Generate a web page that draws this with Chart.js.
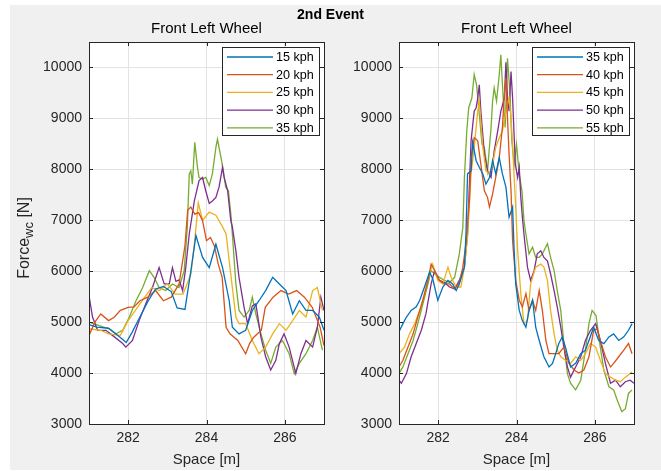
<!DOCTYPE html>
<html><head><meta charset="utf-8">
<script src="https://cdn.jsdelivr.net/npm/chart.js@4.4.0/dist/chart.umd.min.js"></script>
<style>
html,body{margin:0;padding:0;background:#fff;width:661px;height:471px;overflow:hidden;font-family:"Liberation Sans",Arial,sans-serif;}
#fig{position:absolute;left:10px;top:5px;width:651px;height:465px;background:#f0f0f0;}
canvas{position:absolute;left:0;top:0;}
#sup{position:absolute;left:0;width:661px;top:6px;text-align:center;font-weight:bold;font-size:14px;color:#000;}
#ylab{position:absolute;left:-36px;top:229px;width:120px;height:18px;line-height:18px;text-align:center;transform:rotate(-90deg);transform-origin:60px 9px;white-space:nowrap;font-size:16px;font-weight:normal;color:#262626;}
#ylab sub{font-size:13px;line-height:0;}
</style></head>
<body>
<div id="fig"></div>
<canvas id="c1" width="661" height="471"></canvas>
<canvas id="c2" width="661" height="471"></canvas>
<div id="sup">2nd Event</div>
<div id="ylab">Force<sub>wc</sub> [N]</div>
<script>
// ---- tick labels / categories ----
const X_TICKS = [282, 284, 286];
const Y_TICKS = [3000, 4000, 5000, 6000, 7000, 8000, 9000, 10000];
const LEFT_LABELS = ['15 kph', '20 kph', '25 kph', '30 kph', '35 kph'];
const RIGHT_LABELS = ['35 kph', '40 kph', '45 kph', '50 kph', '55 kph'];
const TITLE_TEXT = 'Front Left Wheel';
const X_TITLE = 'Space [m]';

// ---- left panel series [space m, force N] ----
const L15 = [[281.0,4950],[281.2,4900],[281.5,4880],[281.8,4700],[281.95,4600],[282.1,4800],[282.3,5100],[282.5,5400],[282.7,5650],[282.9,5700],[283.1,5600],[283.25,5280],[283.45,5250],[283.6,6000],[283.73,6700],[283.9,6270],[284.07,6070],[284.24,6530],[284.41,6070],[284.58,5420],[284.66,4900],[284.83,4770],[285.0,4840],[285.17,5230],[285.34,5420],[285.51,5620],[285.69,5880],[285.86,5750],[286.03,5620],[286.2,5160],[286.37,5420],[286.54,5230],[286.71,5230],[286.88,5100],[287.0,4840]];
const L20 = [[281.0,4740],[281.15,5000],[281.3,5160],[281.5,5030],[281.65,5100],[281.8,5230],[282.0,5290],[282.15,5300],[282.3,5420],[282.5,5490],[282.7,5620],[282.9,5420],[283.1,5490],[283.3,5750],[283.45,6500],[283.52,7200],[283.6,7260],[283.7,7120],[283.8,7150],[283.9,6990],[284.0,6600],[284.1,6660],[284.2,6500],[284.3,6140],[284.4,5880],[284.5,4900],[284.6,4770],[284.8,4640],[285.0,4380],[285.1,4580],[285.2,4700],[285.4,4840],[285.5,5290],[285.7,5490],[285.9,5620],[286.1,5550],[286.3,5620],[286.5,5490],[286.7,5290],[286.9,4900],[287.0,4540]];
const L25 = [[281.0,4870],[281.3,4840],[281.5,4770],[281.8,4740],[282.0,5030],[282.3,5360],[282.6,5680],[282.8,5620],[283.0,5750],[283.2,5550],[283.4,5550],[283.6,5940],[283.7,6600],[283.79,7340],[283.9,7000],[284.07,7160],[284.24,7100],[284.41,6870],[284.5,6730],[284.6,6070],[284.75,5100],[284.83,4970],[285.0,4970],[285.17,4640],[285.34,4380],[285.51,4510],[285.69,4770],[285.86,4970],[286.03,4840],[286.2,5030],[286.37,5230],[286.54,5100],[286.71,5620],[286.83,5680],[286.96,5230]];
const L30 = [[281.0,5520],[281.09,5100],[281.22,4840],[281.43,4840],[281.6,4740],[281.86,4580],[281.94,4510],[282.11,4640],[282.28,5030],[282.45,5360],[282.62,5680],[282.79,6070],[282.92,5750],[283.05,5750],[283.13,6070],[283.22,5800],[283.3,5830],[283.39,5620],[283.47,6070],[283.56,6730],[283.69,7380],[283.81,7780],[283.9,7840],[283.98,7580],[284.07,7330],[284.15,7380],[284.24,7450],[284.32,7650],[284.41,8040],[284.45,7840],[284.54,7580],[284.62,7000],[284.66,6870],[284.75,6400],[284.83,5880],[284.96,5290],[285.05,4970],[285.17,5320],[285.26,5360],[285.39,4700],[285.51,4320],[285.64,4060],[285.77,4250],[285.86,4580],[285.98,4770],[286.11,4510],[286.28,3990],[286.41,4380],[286.54,4640],[286.71,4510],[286.83,4900],[286.92,5490],[287.0,5230]];
const L35 = [[281.0,5000],[281.26,4930],[281.51,4870],[281.69,4770],[281.86,4840],[282.03,5100],[282.2,5420],[282.37,5680],[282.54,6010],[282.66,5880],[282.79,5680],[282.96,5620],[283.13,5750],[283.3,5680],[283.43,6010],[283.51,6860],[283.56,7910],[283.6,7970],[283.64,7710],[283.7,8530],[283.77,8040],[283.81,7840],[283.9,7810],[283.98,7840],[284.07,7680],[284.15,7910],[284.24,8430],[284.28,8590],[284.37,8230],[284.43,7970],[284.49,7650],[284.56,7580],[284.62,7130],[284.66,6730],[284.75,5750],[284.83,5230],[284.96,5100],[285.09,5230],[285.17,5490],[285.26,5160],[285.39,4770],[285.51,4450],[285.64,4190],[285.77,4510],[285.94,4640],[286.11,4380],[286.24,3990],[286.37,4190],[286.54,4380],[286.71,4640],[286.83,4900],[286.96,4450]];

// ---- right panel series [space m, force N] ----
const R35 = [[281.0,4810],[281.10,4970],[281.19,5100],[281.31,5230],[281.44,5300],[281.53,5430],[281.65,5690],[281.78,5980],[281.86,5850],[281.99,5430],[282.12,5690],[282.25,5820],[282.37,5750],[282.46,5620],[282.54,5750],[282.67,6080],[282.71,6730],[282.75,7910],[282.84,7970],[282.88,8530],[282.97,8170],[283.05,8040],[283.14,7910],[283.22,7710],[283.31,7840],[283.39,8170],[283.47,7910],[283.56,8230],[283.64,7910],[283.73,7650],[283.81,7060],[283.90,7260],[283.94,6400],[283.98,5750],[284.07,5230],[284.15,5030],[284.24,4900],[284.32,5230],[284.41,5430],[284.49,4900],[284.58,4640],[284.70,4320],[284.83,4120],[284.92,4190],[285.0,4380],[285.08,4580],[285.17,4710],[285.25,4510],[285.38,4120],[285.51,4190],[285.64,4380],[285.76,4450],[285.85,4640],[285.97,4900],[286.10,4640],[286.23,4580],[286.36,4710],[286.48,4770],[286.61,4640],[286.74,4710],[286.86,4840],[286.95,4970]];
const R40 = [[281.0,4120],[281.10,4250],[281.23,4510],[281.36,4770],[281.48,5100],[281.61,5430],[281.74,5820],[281.82,6140],[281.91,6010],[282.03,5820],[282.16,5750],[282.29,5750],[282.42,5650],[282.54,5780],[282.63,6080],[282.71,6540],[282.80,7400],[282.84,8230],[282.92,8620],[283.01,8560],[283.09,8100],[283.18,7580],[283.26,7450],[283.31,7260],[283.39,7520],[283.47,7840],[283.56,8230],[283.64,8820],[283.69,9470],[283.73,9790],[283.77,9010],[283.81,8300],[283.86,7580],[283.90,6600],[283.98,5820],[284.07,5430],[284.15,5300],[284.24,5560],[284.32,5230],[284.41,5430],[284.49,5230],[284.58,5620],[284.66,5230],[284.75,4640],[284.83,4380],[284.96,4380],[285.08,4380],[285.21,4510],[285.34,4190],[285.47,4060],[285.59,4000],[285.72,4060],[285.85,4320],[285.97,4840],[286.06,4870],[286.14,4640],[286.27,4320],[286.40,4120],[286.48,4190],[286.61,4320],[286.74,4450],[286.86,4580],[286.95,4380]];
const R45 = [[281.0,4380],[281.14,4510],[281.27,4770],[281.40,4970],[281.53,5230],[281.65,5560],[281.78,5950],[281.86,6140],[281.99,5820],[282.12,5750],[282.25,6080],[282.33,5880],[282.46,5690],[282.58,5690],[282.67,6080],[282.75,6670],[282.84,7910],[282.92,8430],[283.01,9140],[283.05,9340],[283.14,8430],[283.22,7970],[283.31,7910],[283.39,8100],[283.47,8430],[283.56,8620],[283.64,8750],[283.73,9140],[283.81,9400],[283.86,9010],[283.90,8490],[283.94,7840],[283.98,7260],[284.03,6400],[284.11,5560],[284.19,4970],[284.28,5030],[284.36,5750],[284.49,6080],[284.62,6140],[284.70,6080],[284.79,5820],[284.87,5230],[284.96,4770],[285.04,4450],[285.13,4320],[285.25,4250],[285.38,4190],[285.51,4320],[285.64,4250],[285.76,4380],[285.89,4580],[286.02,4510],[286.14,4250],[286.27,3990],[286.40,3920],[286.53,3860],[286.65,3830],[286.78,3920],[286.95,4020]];
const R50 = [[281.0,3860],[281.06,3800],[281.19,3990],[281.31,4320],[281.44,4580],[281.57,4840],[281.69,5170],[281.82,5750],[281.91,6010],[282.03,5820],[282.16,5780],[282.29,5690],[282.42,5650],[282.54,5820],[282.67,6080],[282.75,6730],[282.84,8560],[282.92,9140],[282.97,9210],[283.01,9400],[283.05,9660],[283.09,9140],[283.18,8300],[283.26,7970],[283.35,7840],[283.43,8360],[283.52,8750],[283.60,9140],[283.69,9400],[283.73,10100],[283.77,9400],[283.81,9140],[283.86,9920],[283.90,9400],[283.97,8100],[284.03,7840],[284.07,8040],[284.11,7450],[284.15,7060],[284.19,6730],[284.28,6080],[284.36,5820],[284.45,6010],[284.53,6340],[284.62,6400],[284.70,6270],[284.79,6200],[284.87,5950],[284.96,5620],[285.04,5300],[285.13,4900],[285.21,4510],[285.30,4120],[285.38,3920],[285.51,4120],[285.64,4320],[285.76,4640],[285.89,4840],[286.02,4970],[286.14,4640],[286.27,4190],[286.40,3800],[286.53,3860],[286.65,3730],[286.78,3830],[286.90,3860],[287.0,3800]];
const R55 = [[281.0,3990],[281.10,4120],[281.23,4380],[281.36,4640],[281.48,4970],[281.61,5360],[281.74,5750],[281.82,6010],[281.91,5950],[282.03,5880],[282.16,5820],[282.29,5780],[282.42,5880],[282.54,6340],[282.63,6860],[282.67,7840],[282.73,8750],[282.78,9210],[282.86,9400],[282.92,9860],[282.98,9660],[283.05,9080],[283.12,8490],[283.18,8430],[283.26,7970],[283.35,8820],[283.39,9340],[283.43,9600],[283.49,9340],[283.56,9860],[283.60,10250],[283.66,9400],[283.71,8820],[283.77,10180],[283.83,9530],[283.88,8560],[283.94,8100],[284.0,8490],[284.07,7910],[284.14,7580],[284.19,7000],[284.24,6730],[284.32,6340],[284.41,6470],[284.49,6270],[284.58,6270],[284.66,6340],[284.79,6540],[284.87,6270],[284.96,6010],[285.04,5620],[285.13,5230],[285.21,4580],[285.30,3990],[285.38,3800],[285.51,3670],[285.64,3860],[285.76,4450],[285.85,4970],[285.93,5230],[286.03,5130],[286.14,4510],[286.23,4060],[286.36,3730],[286.48,3670],[286.57,3470],[286.69,3240],[286.78,3300],[286.86,3600],[286.95,3670]];

const COLORS = ['#0072BD', '#D95319', '#EDB120', '#7E2F8E', '#77AC30'];
const FONT = '"Liberation Sans", Arial, sans-serif';
const INK = '#262626';

const framePlugin = {
  id: 'frame',
  beforeDraw(chart) {
    const a = chart.chartArea, ctx = chart.ctx;
    ctx.save(); ctx.fillStyle = '#fff';
    ctx.fillRect(a.left, a.top, a.right - a.left, a.bottom - a.top);
    ctx.restore();
  },
  afterDatasetsDraw(chart) {
    const a = chart.chartArea, ctx = chart.ctx;
    const xs = chart.scales.x, ys = chart.scales.y;
    ctx.save();
    ctx.strokeStyle = INK; ctx.lineWidth = 1;
    ctx.beginPath();
    xs.ticks.forEach(t => {
      const p = Math.round(xs.getPixelForValue(t.value)) + 0.5;
      ctx.moveTo(p, a.bottom); ctx.lineTo(p, a.bottom - 4);
      ctx.moveTo(p, a.top); ctx.lineTo(p, a.top + 4);
    });
    ys.ticks.forEach(t => {
      const p = Math.round(ys.getPixelForValue(t.value)) + 0.5;
      ctx.moveTo(a.left, p); ctx.lineTo(a.left + 4, p);
      ctx.moveTo(a.right, p); ctx.lineTo(a.right - 4, p);
    });
    ctx.stroke();
    ctx.strokeRect(Math.round(a.left) + 0.5, Math.round(a.top) + 0.5, Math.round(a.right - a.left), Math.round(a.bottom - a.top));
    // legend box (inside, top-right)
    const w = 97, h = 88;
    const x0 = Math.round(a.right) - 5 - w, y0 = Math.round(a.top) + 5;
    ctx.fillStyle = '#fff'; ctx.fillRect(x0, y0, w, h);
    ctx.strokeStyle = INK; ctx.strokeRect(x0 + 0.5, y0 + 0.5, w, h);
    ctx.font = '12.6px ' + FONT; ctx.textBaseline = 'middle'; ctx.textAlign = 'left';
    chart.data.datasets.forEach((d, i) => {
      const cy = y0 + 10 + i * 17.7;
      ctx.strokeStyle = d.borderColor; ctx.lineWidth = 1.3;
      ctx.beginPath(); ctx.moveTo(x0 + 5, cy); ctx.lineTo(x0 + 51, cy); ctx.stroke();
      ctx.fillStyle = '#000'; ctx.fillText(d.label, x0 + 54, cy + 0.5);
    });
    ctx.restore();
  }
};

function makeChart(id, labels, series, padLeft, padRight) {
  const datasets = series.map((s, i) => ({
    label: labels[i],
    data: s.map(p => ({x: p[0], y: p[1]})),
    borderColor: COLORS[i], backgroundColor: COLORS[i],
    borderWidth: 1.3, pointRadius: 0, fill: false, tension: 0
  }));
  return new Chart(document.getElementById(id), {
    type: 'line',
    data: {datasets},
    options: {
      responsive: false, animation: false, devicePixelRatio: 1,
      layout: {padding: {left: padLeft, right: padRight, top: 20, bottom: 1}},
      plugins: {
        legend: {display: false}, tooltip: {enabled: false},
        title: {display: true, text: TITLE_TEXT, fullSize: false, color: '#000',
                font: {family: FONT, size: 15, weight: 'normal', lineHeight: 1.2},
                padding: {top: 0, bottom: 4}}
      },
      scales: {
        x: {
          type: 'linear', min: 281, max: 287,
          afterBuildTicks: s => { s.ticks = X_TICKS.map(v => ({value: v})); },
          ticks: {color: INK, font: {family: FONT, size: 14}, padding: 6, maxRotation: 0,
                  callback: v => String(v)},
          grid: {color: '#e3e3e3', drawTicks: false},
          border: {display: false},
          title: {display: true, text: X_TITLE, color: INK, font: {family: FONT, size: 15}, padding: {top: 0, bottom: 1}},
          afterFit: s => { s.height = 46; }
        },
        y: {
          type: 'linear', min: 3000, max: 10500,
          afterBuildTicks: s => { s.ticks = Y_TICKS.map(v => ({value: v})); },
          ticks: {color: INK, font: {family: FONT, size: 14}, padding: 7,
                  callback: v => String(v)},
          grid: {color: '#e3e3e3', drawTicks: false},
          border: {display: false},
          afterFit: s => { s.width = 56; }
        }
      }
    },
    plugins: [framePlugin]
  });
}

makeChart('c1', LEFT_LABELS, [L15, L20, L25, L30, L35], 33, 337);
makeChart('c2', RIGHT_LABELS, [R35, R40, R45, R50, R55], 343, 27);
</script>
</body></html>
